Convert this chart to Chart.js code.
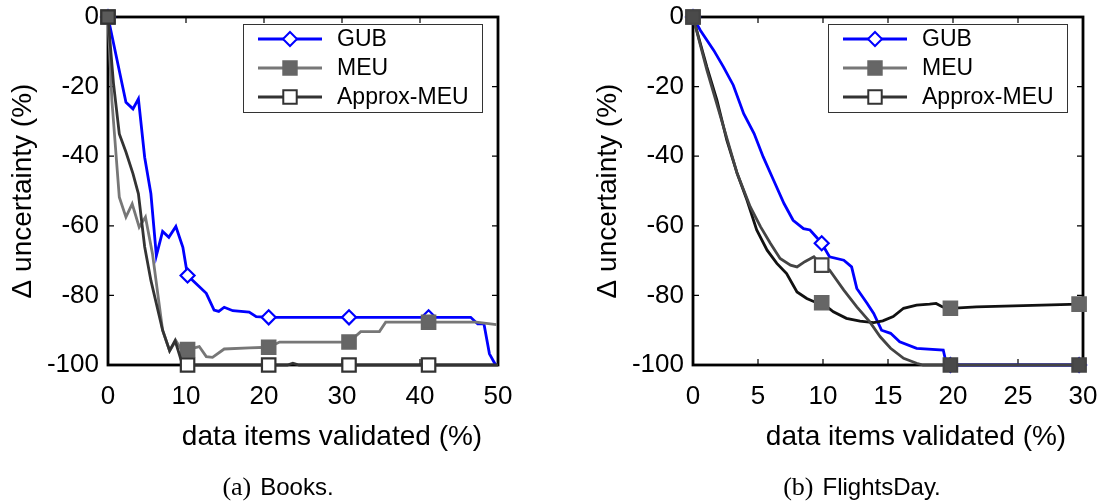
<!DOCTYPE html>
<html>
<head>
<meta charset="utf-8">
<script src="https://cdn.jsdelivr.net/npm/chart.js@4"></script>
<style>
  body { margin: 0; background: #fff; width: 1105px; height: 504px; position: relative; overflow: hidden;
         font-family: "Liberation Sans", Arial, sans-serif; }
  .box { position: absolute; top: 0; height: 504px; }
  .cap { position: absolute; top: 472px; font-size: 24px; line-height: 30px; transform: translateX(-50%); white-space: nowrap; }
  .cap span { font-family: "Liberation Serif", serif; font-size: 26px; margin-right: 9px; }
</style>
</head>
<body>
<div class="box" style="left:0;width:552px"><canvas id="books"></canvas></div>
<div class="box" style="left:552px;width:553px"><canvas id="flights"></canvas></div>
<div class="cap" style="left:278px"><span>(a)</span>Books.</div>
<div class="cap" style="left:862px"><span>(b)</span>FlightsDay.</div>
<script>
// series names and axis text
const seriesNames = ["GUB", "MEU", "Approx-MEU"];
const xTitle = "data items validated (%)";
const yTitle = "\u0394 uncertainty (%)";
const yTicks = [0, -20, -40, -60, -80, -100];
const booksXTicks = [0, 10, 20, 30, 40, 50];
const flightsXTicks = [0, 5, 10, 15, 20, 25, 30];

// Books: x = data items validated (%), y = delta uncertainty (%)
const booksMarks = [0, 10.2, 20.6, 30.9, 41.1];
const gubBooksX = [0, 2.3, 3.2, 3.9, 4.7, 5.5, 6.2, 7.0, 7.8, 8.7, 9.6, 10.2, 12.6, 13.6, 14.2, 14.9, 16.0, 18.1, 19.0, 20.6, 30.9, 41.1, 46.5, 47.4, 48.2, 48.9, 49.7];
const gubBooksY = [0, -24.5, -26.4, -23.5, -40.3, -50.8, -68.6, -61.6, -63.3, -60.2, -66.2, -74.3, -79.4, -84.2, -84.6, -83.4, -84.4, -84.8, -86.1, -86.3, -86.3, -86.3, -86.3, -88.2, -88.2, -96.8, -100];
const meuBooksX = [0, 0.5, 1.45, 2.3, 3.1, 4.0, 4.8, 5.7, 7.0, 7.9, 8.7, 9.5, 10.2, 11.7, 12.6, 13.4, 14.9, 18.1, 20.6, 22.0, 30.9, 32.4, 34.8, 35.6, 41.1, 47.2, 49.8];
const meuBooksY = [0, -24, -51.8, -57.5, -53.7, -60.4, -57.5, -68, -90, -95.9, -93, -95.9, -95.6, -94.7, -97.6, -97.8, -95.4, -95.1, -94.9, -93.4, -93.4, -90.4, -90.4, -87.7, -87.7, -87.7, -88.4];
const apxBooksX = [0, 0.7, 1.45, 2.3, 3.2, 3.9, 4.7, 5.5, 7.0, 7.9, 8.6, 9.4, 10.2, 20.6, 23.0, 23.7, 24.5, 30.9, 41.1, 50];
const apxBooksY = [0, -19, -33.6, -38.8, -45, -50.8, -66, -75.7, -90, -95.9, -93, -98.8, -100, -100, -100, -99.5, -100, -100, -100, -100];

// FlightsDay
const flightsMarks = [0, 9.9, 19.8, 29.7];
const gubFlightsX = [0, 0.56, 1.6, 2.35, 3.1, 3.9, 4.7, 5.4, 6.2, 7.0, 7.7, 8.5, 9.0, 9.5, 9.9, 10.5, 11.6, 12.2, 12.6, 13.4, 13.9, 14.5, 15.2, 15.9, 17.2, 19.25, 19.5, 19.8, 29.7];
const gubFlightsY = [0, -3.8, -9.6, -14.4, -19.6, -27.8, -33.5, -40.2, -46.9, -53.6, -58.4, -60.8, -61.2, -63.3, -65, -68.9, -69.9, -71.8, -78, -82.3, -85.2, -90, -90.9, -93.3, -95.2, -95.7, -99.8, -100, -100];
const meuFlightsX = [0, 1.07, 1.84, 2.6, 3.4, 4.15, 4.9, 5.7, 6.45, 7.2, 8.0, 8.75, 9.5, 9.9, 10.8, 11.8, 12.85, 13.9, 14.6, 15.4, 16.2, 17.2, 18.2, 18.7, 19.2, 19.8, 21.8, 29.7];
const meuFlightsY = [0, -14.4, -23.9, -35.4, -45, -52.6, -61.2, -67, -70.8, -73.7, -79, -80.9, -82.1, -82.1, -84.7, -86.6, -87.4, -87.8, -87.3, -86.1, -83.7, -82.8, -82.5, -82.3, -83.3, -83.7, -83.3, -82.5];
const apxFlightsX = [0, 1.07, 2.35, 3.4, 4.4, 5.2, 5.96, 6.7, 7.5, 8.0, 8.6, 9.3, 9.9, 10.5, 11.6, 12.6, 13.6, 14.4, 15.2, 16.2, 17.2, 17.7, 19.8, 29.7];
const apxFlightsY = [0, -15.3, -31.6, -45, -54.5, -60.3, -65.1, -69.4, -71.3, -71.8, -70.3, -68.9, -71.3, -72.7, -78.5, -83.3, -87.6, -91.9, -95.2, -98.1, -99.5, -100, -100, -100];

const FONT = '"Liberation Sans", Arial, sans-serif';
Chart.defaults.font.family = FONT;
Chart.defaults.color = "#000";

// legend look (same in both panels)
const legendStyle = [
  { line: "#0000ff", stroke: "#0000ff", fill: "#fff", shape: "rectRot", r: 7 },
  { line: "#777777", stroke: "#666666", fill: "#666666", shape: "rect", r: 9.5 },
  { line: "#333333", stroke: "#333333", fill: "#fff", shape: "rect", r: 9.5 }
];

function marker(ctx, shape, x, y, r, stroke, fill) {
  ctx.beginPath();
  if (shape === "rectRot") {
    ctx.moveTo(x, y - r); ctx.lineTo(x + r, y); ctx.lineTo(x, y + r); ctx.lineTo(x - r, y); ctx.closePath();
  } else {
    const h = r * Math.SQRT1_2;
    ctx.rect(x - h, y - h, 2 * h, 2 * h);
  }
  ctx.fillStyle = fill; ctx.fill();
  ctx.lineWidth = 2; ctx.strokeStyle = stroke; ctx.stroke();
}

// box, inward ticks, axis titles and legend
const decor = {
  id: "decor",
  beforeDatasetsDraw(chart) {
    const { ctx, chartArea: a, scales: { x, y } } = chart;
    ctx.save();
    ctx.strokeStyle = "#000";
    ctx.lineWidth = 1.2;
    ctx.beginPath();
    x.ticks.forEach(t => {
      const p = x.getPixelForValue(t.value);
      ctx.moveTo(p, a.bottom); ctx.lineTo(p, a.bottom - 6);
      ctx.moveTo(p, a.top); ctx.lineTo(p, a.top + 6);
    });
    y.ticks.forEach(t => {
      const p = y.getPixelForValue(t.value);
      ctx.moveTo(a.left, p); ctx.lineTo(a.left + 6, p);
      ctx.moveTo(a.right, p); ctx.lineTo(a.right - 6, p);
    });
    ctx.stroke();
    ctx.lineWidth = 2.8;
    ctx.strokeRect(a.left, a.top, a.right - a.left, a.bottom - a.top);
    ctx.restore();
  },
  afterDraw(chart, args, opts) {
    const { ctx, chartArea: a } = chart;
    ctx.save();
    ctx.fillStyle = "#000";
    ctx.font = "28px " + FONT;
    ctx.textAlign = "center";
    ctx.textBaseline = "middle";
    ctx.fillText(xTitle, (a.left + a.right) / 2 + opts.xShift, 437);
    ctx.save();
    ctx.translate(opts.yTitleX, (a.top + a.bottom) / 2);
    ctx.rotate(-Math.PI / 2);
    ctx.fillText(yTitle, 0, 0);
    ctx.restore();

    // legend box
    const bw = 239, bh = 88;
    const bx = a.right - 16 - bw, by = a.top + 7;
    ctx.fillStyle = "#fff";
    ctx.fillRect(bx, by, bw, bh);
    ctx.lineWidth = 1;
    ctx.strokeStyle = "#333";
    ctx.strokeRect(bx + 0.5, by + 0.5, bw, bh);
    ctx.font = "23px " + FONT;
    ctx.textAlign = "left";
    seriesNames.forEach((name, i) => {
      const s = legendStyle[i];
      const ly = by + 15 + i * 29;
      ctx.beginPath();
      ctx.moveTo(bx + 15, ly); ctx.lineTo(bx + 79, ly);
      ctx.lineWidth = 2.8; ctx.strokeStyle = s.line; ctx.stroke();
      marker(ctx, s.shape, bx + 47, ly, s.r, s.stroke, s.fill);
      ctx.fillStyle = "#000";
      ctx.fillText(name, bx + 94, ly + 1);
    });
    ctx.restore();
  }
};

// order: lower value is drawn on top (GUB bottom, Approx-MEU top)
function series(label, order, xs, ys, marks, line, stroke, fill, shape, r) {
  return {
    label: label,
    order: order,
    data: xs.map((v, i) => ({ x: v, y: ys[i] })),
    borderColor: line,
    borderWidth: 2.8,
    pointStyle: shape,
    pointRadius: c => marks.includes(xs[c.dataIndex]) ? r : 0,
    pointBorderColor: stroke,
    pointBackgroundColor: fill,
    pointBorderWidth: 2.2,
    tension: 0,
    clip: false
  };
}

// hollow squares look filled where they sit on the frame corners
const books0 = c => c.raw && c.raw.y === 0 ? "#5a5a5a" : "#fff";
const flights0 = c => c.raw && (c.raw.y === 0 || c.raw.y === -100) ? "#4a4a4a" : "#fff";

function makeChart(id, datasets, xTicks, yAxisWidth, padRight, xShift, yTitleX) {
  return new Chart(document.getElementById(id), {
    type: "line",
    data: { datasets: datasets },
    options: {
      responsive: true,
      maintainAspectRatio: false,
      animation: false,
      events: [],
      layout: { padding: { top: 17, right: padRight, left: 0, bottom: 0 } },
      plugins: {
        legend: { display: false },
        tooltip: { enabled: false },
        decor: { xShift: xShift, yTitleX: yTitleX }
      },
      scales: {
        x: {
          type: "linear",
          min: xTicks[0],
          max: xTicks[xTicks.length - 1],
          afterBuildTicks: s => { s.ticks = xTicks.map(v => ({ value: v })); },
          afterFit: s => { s.height = 139; s.paddingLeft = 0; s.paddingRight = 0; },
          ticks: { font: { size: 26 }, color: "#000", padding: 16, maxRotation: 0 },
          grid: { display: false, drawTicks: false },
          border: { display: false }
        },
        y: {
          min: -100,
          max: 0,
          afterBuildTicks: s => { s.ticks = yTicks.map(v => ({ value: v })); },
          afterFit: s => { s.width = yAxisWidth; s.paddingTop = 0; s.paddingBottom = 0; },
          ticks: { font: { size: 26 }, color: "#000", padding: 9 },
          grid: { display: false, drawTicks: false },
          border: { display: false }
        }
      }
    },
    plugins: [decor]
  });
}

makeChart("books", [
  series(seriesNames[0], 3, gubBooksX, gubBooksY, booksMarks, "#0000ff", "#0000ff", "#fff", "rectRot", 7),
  series(seriesNames[1], 2, meuBooksX, meuBooksY, booksMarks, "#777777", "#666666", "#666666", "rect", 9.5),
  series(seriesNames[2], 1, apxBooksX, apxBooksY, booksMarks, "#333333", "#333333", books0, "rect", 9.5)
], booksXTicks, 108, 54, 29, 23);

makeChart("flights", [
  series(seriesNames[0], 3, gubFlightsX, gubFlightsY, flightsMarks, "#0000ff", "#0000ff", "#fff", "rectRot", 7),
  series(seriesNames[1], 2, meuFlightsX, meuFlightsY, flightsMarks, "#111111", "#666666", "#666666", "rect", 9.5),
  series(seriesNames[2], 1, apxFlightsX, apxFlightsY, flightsMarks, "#444444", "#444444", flights0, "rect", 9.5)
], flightsXTicks, 141, 22, 28, 56);
</script>
</body>
</html>
